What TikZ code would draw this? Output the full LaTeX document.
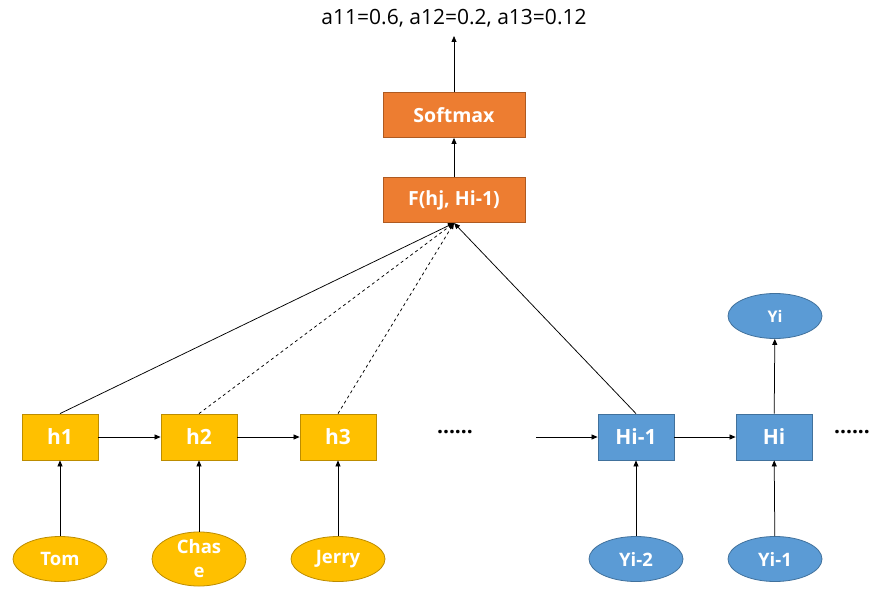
\documentclass[tikz,border=0pt]{standalone}
\usepackage{fontspec}
\setmainfont{Open Sans}
\usetikzlibrary{arrows.meta,shapes.geometric}
\definecolor{orng}{HTML}{ED7D31}
\definecolor{orngd}{HTML}{AE5A21}
\definecolor{yel}{HTML}{FFC000}
\definecolor{yeld}{HTML}{BC8C00}
\definecolor{blu}{HTML}{5B9BD5}
\definecolor{blud}{HTML}{41719C}
\tikzset{
  box/.style={rectangle,minimum width=76pt,minimum height=46pt,inner sep=0pt,line width=0.8pt,text=white,font=\bfseries\fontsize{21}{23}\selectfont},
  obox/.style={box,fill=orng,draw=orngd,minimum width=142pt,minimum height=45pt,font=\bfseries\fontsize{19.5}{21}\selectfont},
  ybox/.style={box,fill=yel,draw=yeld},
  bbox/.style={box,fill=blu,draw=blud},
  ell/.style={ellipse,minimum width=94pt,minimum height=45pt,inner sep=0pt,line width=0.8pt,text=white,font=\bfseries\fontsize{18.5}{24}\selectfont,align=center},
  yell/.style={ell,fill=yel,draw=yeld},
  bell/.style={ell,fill=blu,draw=blud},
  arr/.style={-{Triangle[length=6pt,width=5pt]},line width=0.75pt},
  dots/.style={font=\bfseries\fontsize{21}{23}\selectfont}
}
\begin{document}
\begin{tikzpicture}[x=1pt,y=-1pt]
\useasboundingbox (0,0) rectangle (885,593);
\node[font=\fontsize{21}{23}\selectfont] (top) at (454,18) {a11=0.6, a12=0.2, a13=0.12};
\coordinate (topend) at (454,36);
\node[obox] (soft) at (454,115) {Softmax};
\node[obox] (F) at (454,200) {F(hj, Hi-1)};
\node[ybox] (h1) at (60,437) {h1};
\node[ybox] (h2) at (199,437) {h2};
\node[ybox] (h3) at (338,437) {h3};
\node[bbox] (Hm) at (636,437) {Hi-1};
\node[bbox] (Hi) at (774,437) {Hi};
\node[yell] (tom) at (60,559) {Tom};
\node[yell] (chase) at (199,559) {Chas\\e};
\node[yell] (jerry) at (338,559) {Jerry};
\node[bell] (y2) at (636,559) {Yi-2};
\node[bell] (y1) at (775,559) {Yi-1};
\node[bell,font=\bfseries\fontsize{16}{18}\selectfont] (yi) at (775,316) {Yi};
\node[dots] (d1) at (455,432) {......};
\node[dots] (d2) at (852,432) {......};
\coordinate (hin) at (536,437);
\coordinate (fin) at (454,223);
\draw[arr] (soft.north) -- (topend);
\draw[arr] (F.north) -- (soft.south);
\draw[arr] (h1.north) -- (fin);
\draw[arr,dashed] (h2.north) -- (fin);
\draw[arr,dashed] (h3.north) -- (fin);
\draw[arr] (Hm.north) -- (fin);
\draw[arr] (h1) -- (h2);
\draw[arr] (h2) -- (h3);
\draw[arr] (hin) -- (Hm.west);
\draw[arr] (Hm) -- (Hi);
\draw[arr] (tom) -- (h1);
\draw[arr] (chase) -- (h2);
\draw[arr] (jerry) -- (h3);
\draw[arr] (y2) -- (Hm);
\draw[arr] (y1) -- (Hi);
\draw[arr] (Hi) -- (yi);
\end{tikzpicture}
\end{document}
